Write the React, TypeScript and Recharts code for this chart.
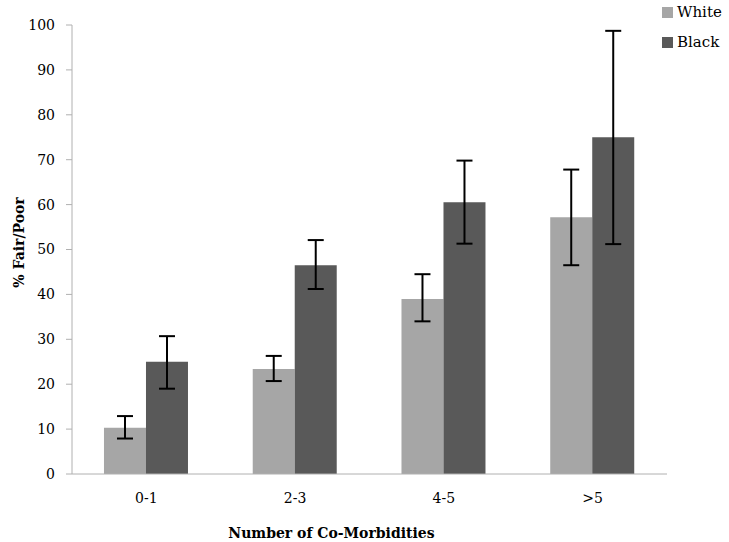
import { BarChart, Bar, XAxis, YAxis, ErrorBar, Legend } from 'recharts'

// values
const categories = ['0-1', '2-3', '4-5', '>5']
const whiteValues = [10.3, 23.4, 39, 57.2]
const whiteLow = [7.9, 20.7, 34, 46.5]
const whiteHigh = [12.9, 26.3, 44.5, 67.8]
const blackValues = [25, 46.5, 60.5, 75]
const blackLow = [19, 41.2, 51.3, 51.2]
const blackHigh = [30.7, 52.1, 69.8, 98.7]
const seriesOrder = ['White', 'Black']
const yTicks = [0, 10, 20, 30, 40, 50, 60, 70, 80, 90, 100]
const boundaryTicks = [0, 1, 2, 3, 4]

const data = categories.map((name, i) => ({
  name,
  White: whiteValues[i],
  Black: blackValues[i],
  whiteErr: [whiteValues[i] - whiteLow[i], whiteHigh[i] - whiteValues[i]],
  blackErr: [blackValues[i] - blackLow[i], blackHigh[i] - blackValues[i]],
}))

const font = 'DejaVu Serif'
const axisColor = '#B0B0B0'

function LegendBox(props: any) {
  const items = [...(props.payload || [])].sort(
    (a: any, b: any) => seriesOrder.indexOf(a.value) - seriesOrder.indexOf(b.value)
  )
  return (
    <div style={{ fontFamily: font, fontSize: 15 }}>
      {items.map((p: any) => (
        <div key={p.value} style={{ display: 'flex', alignItems: 'center', height: 30 }}>
          <span style={{ width: 11, height: 11, background: p.color, marginRight: 4 }} />
          <span>{p.value}</span>
        </div>
      ))}
    </div>
  )
}

export default function App() {
  return (
    <div style={{ position: 'absolute', left: 0, top: 0 }}>
      <BarChart
        width={729}
        height={542}
        data={data}
        margin={{ top: 25, right: 62, bottom: 0, left: 0 }}
        barCategoryGap="21.5%"
        barGap={0}
      >
        <XAxis
          xAxisId="bounds"
          type="number"
          domain={[0, 4]}
          ticks={boundaryTicks}
          tick={false}
          height={0}
          axisLine={false}
          tickLine={{ stroke: axisColor }}
          tickSize={6}
        />
        <XAxis
          dataKey="name"
          height={68}
          tickLine={false}
          axisLine={{ stroke: axisColor }}
          tick={{ fontFamily: font, fontSize: 14, fill: '#000' }}
          tickMargin={13}
          label={{
            value: 'Number of Co-Morbidities',
            position: 'insideBottom',
            offset: 4,
            dx: -38,
            style: { fontFamily: font, fontSize: 14, fontWeight: 'bold', fill: '#000' },
          }}
        />
        <YAxis
          width={72}
          domain={[0, 100]}
          ticks={yTicks}
          interval={0}
          axisLine={{ stroke: axisColor }}
          tickLine={{ stroke: axisColor }}
          tickSize={6}
          tickMargin={11}
          tick={{ fontFamily: font, fontSize: 14, fill: '#000' }}
          label={{
            value: '% Fair/Poor',
            angle: -90,
            position: 'insideLeft',
            offset: 19,
            dy: -7,
            style: { fontFamily: font, fontSize: 14, fontWeight: 'bold', fill: '#000', textAnchor: 'middle' },
          }}
        />
        <Legend
          layout="vertical"
          verticalAlign="middle"
          align="center"
          content={<LegendBox />}
          wrapperStyle={{ position: 'absolute', left: 662, top: -3, width: 70, height: 60 }}
        />
        <Bar dataKey="White" fill="#A6A6A6" isAnimationActive={false}>
          <ErrorBar dataKey="whiteErr" width={8} strokeWidth={2} stroke="#000" isAnimationActive={false} />
        </Bar>
        <Bar dataKey="Black" fill="#595959" isAnimationActive={false}>
          <ErrorBar dataKey="blackErr" width={8} strokeWidth={2} stroke="#000" isAnimationActive={false} />
        </Bar>
      </BarChart>
    </div>
  )
}
